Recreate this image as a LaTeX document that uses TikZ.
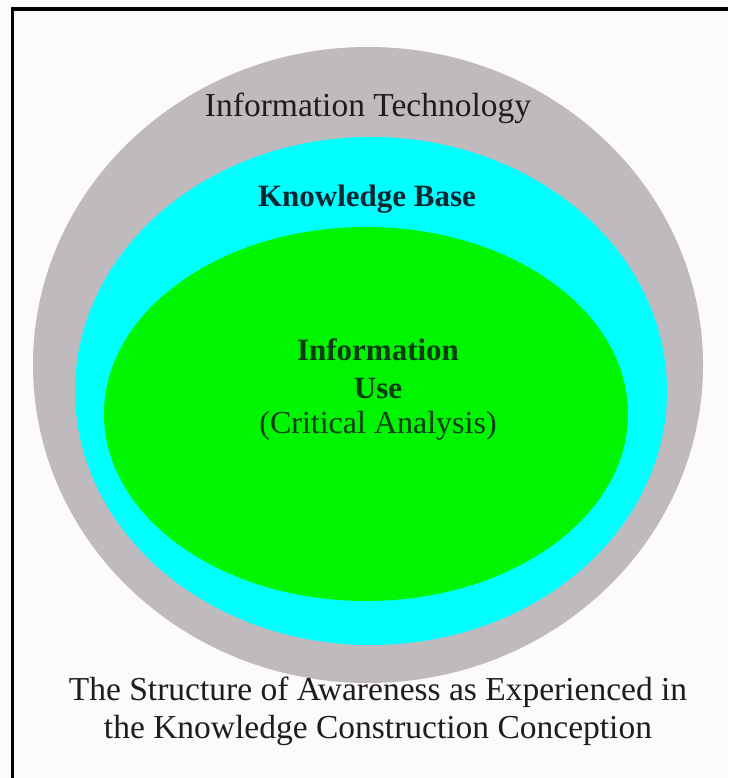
\documentclass[tikz,border=0pt]{standalone}
\usepackage{fontspec}
\setmainfont{Liberation Serif}
\definecolor{bgc}{RGB}{253,250,253}
\definecolor{grayring}{RGB}{190,186,190}
\definecolor{cyanring}{RGB}{0,255,255}
\definecolor{greencore}{RGB}{0,245,0}
\definecolor{txtdark}{RGB}{30,28,30}
\definecolor{kbtxt}{RGB}{10,40,50}
\definecolor{iutxt}{RGB}{10,60,20}
\begin{document}
\begin{tikzpicture}[x=1pt,y=1pt,
  lbl/.style={inner sep=0pt, align=center},
  framel/.style={line cap=butt}]
\useasboundingbox (0,0) rectangle (728,778);
\fill[bgc] (0,0) rectangle (728,778);
% frame (top and left edges)
\draw[framel, line width=4pt, black] (11,769) -- (728,769);
\draw[framel, line width=3pt, black] (12.5,771) -- (12.5,0);
% regions
\fill[grayring] (368,413) ellipse [x radius=335, y radius=318];
\fill[cyanring] (371,387) ellipse [x radius=296, y radius=254];
\fill[greencore] (366,364) ellipse [x radius=262, y radius=187];
% labels
\node[lbl, text=txtdark, font=\fontsize{33.5}{36}\selectfont] (it) at (368,670) {Information Technology};
\node[lbl, text=kbtxt, font=\fontsize{31}{34}\selectfont\bfseries] (kb) at (367,579) {Knowledge Base};
\node[lbl, text=iutxt, font=\fontsize{31}{38}\selectfont\bfseries] (iu) at (378,409) {Information\\Use};
\node[lbl, text=iutxt, font=\fontsize{32}{34}\selectfont] (ca) at (378,352) {(Critical Analysis)};
\node[lbl, text=txtdark, font=\fontsize{33.5}{38}\selectfont] (cap) at (378,67) {The Structure of Awareness as Experienced in\\the Knowledge Construction Conception};
\end{tikzpicture}
\end{document}
